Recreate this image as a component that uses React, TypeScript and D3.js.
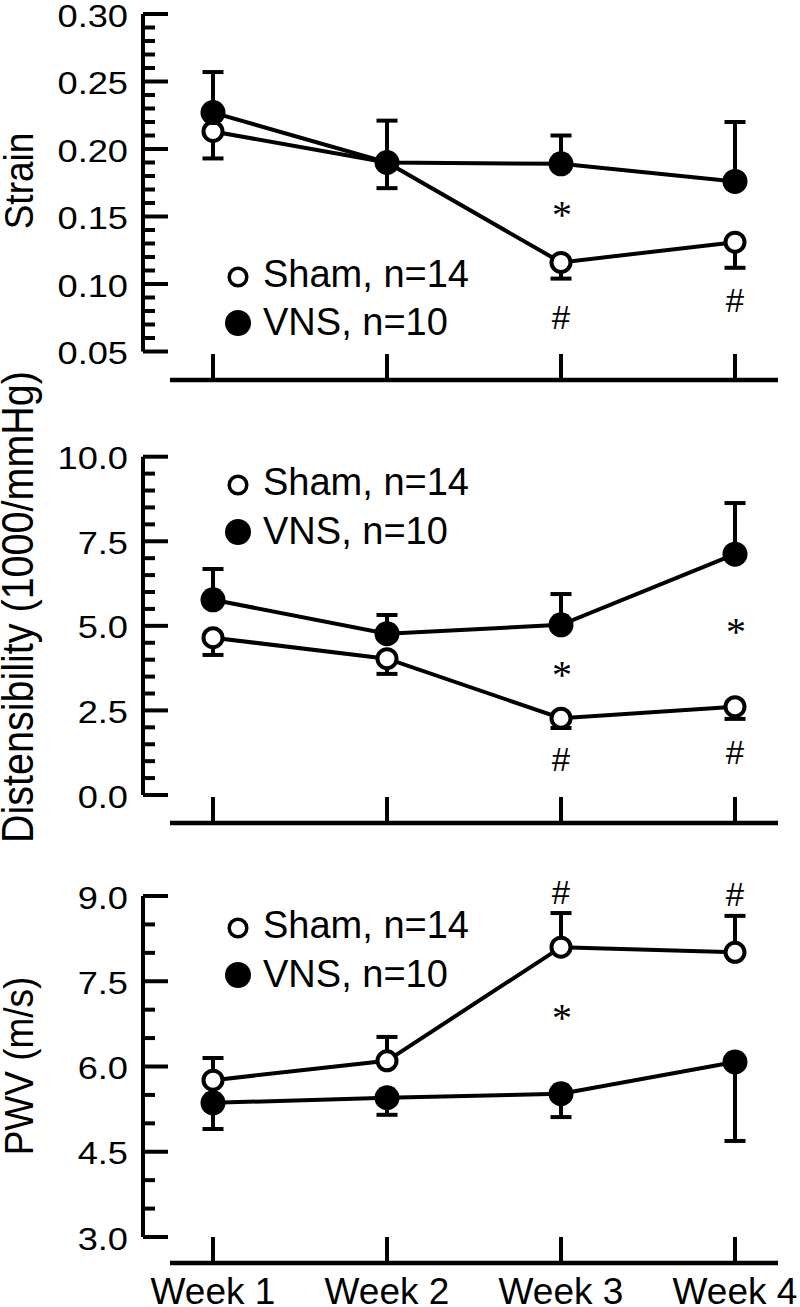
import React from "react";
import * as d3 from "d3";

const weeks = ["Week 1", "Week 2", "Week 3", "Week 4"];

// Strain
const strainSham = [0.213, 0.19, 0.116, 0.131];
const strainShamErr = [0.02, 0.019, 0.012, 0.019];
const strainVNS = [0.227, 0.19, 0.189, 0.176];
const strainVNSErr = [0.03, 0.031, 0.021, 0.044];
const strainTicks = [0.05, 0.1, 0.15, 0.2, 0.25, 0.3];

// Distensibility
const distSham = [4.65, 4.03, 2.27, 2.61];
const distShamErr = [0.51, 0.45, 0.29, 0.36];
const distVNS = [5.77, 4.77, 5.03, 7.12];
const distVNSErr = [0.91, 0.55, 0.91, 1.51];
const distTicks = [0, 2.5, 5, 7.5, 10];

// PWV
const pwvSham = [5.76, 6.1, 8.1, 8.01];
const pwvShamErr = [0.39, 0.42, 0.6, 0.64];
const pwvVNS = [5.36, 5.45, 5.52, 6.08];
const pwvVNSErr = [0.46, 0.3, 0.41, 1.39];
const pwvTicks = [3, 4.5, 6, 7.5, 9];

const shamLabel = "Sham, n=14";
const vnsLabel = "VNS, n=10";

// annotations: [weekIndex, value, symbol]
const strainNotes: [number, number, string][] = [
  [2, 0.155, "*"],
  [2, 0.075, "#"],
  [3, 0.0875, "#"],
];
const distNotes: [number, number, string][] = [
  [2, 3.7, "*"],
  [3, 4.97, "*"],
  [2, 1.06, "#"],
  [3, 1.27, "#"],
];
const pwvNotes: [number, number, string][] = [
  [2, 9.07, "#"],
  [3, 9.02, "#"],
  [2, 6.94, "*"],
];

const FONT = "'Liberation Sans', Arial, Helvetica, sans-serif";

const x = d3.scalePoint<string>().domain(weeks).range([213, 735]);

type Panel = {
  label: string;
  labelSize: number;
  labelY: number;
  domain: [number, number];
  range: [number, number];
  ticks: number[];
  minorStep: number;
  fmt: (v: number) => string;
  xAxisY: number;
  sham: number[];
  shamErr: number[];
  shamDir: number;
  vns: number[];
  vnsErr: number[];
  vnsDir: number;
  shamOnTop: boolean;
  legendY: [number, number];
  notes: [number, number, string][];
};

const panels: Panel[] = [
  {
    label: "Strain",
    labelSize: 37,
    labelY: 181,
    domain: [0.05, 0.3],
    range: [351.5, 14],
    ticks: strainTicks,
    minorStep: 0.01,
    fmt: (v) => v.toFixed(2),
    xAxisY: 380,
    sham: strainSham,
    shamErr: strainShamErr,
    shamDir: -1,
    vns: strainVNS,
    vnsErr: strainVNSErr,
    vnsDir: 1,
    shamOnTop: false,
    legendY: [277, 323],
    notes: strainNotes,
  },
  {
    label: "Distensibility (1000/mmHg)",
    labelSize: 39.5,
    labelY: 607,
    domain: [0, 10],
    range: [795, 456.7],
    ticks: distTicks,
    minorStep: 0.5,
    fmt: (v) => v.toFixed(1),
    xAxisY: 823,
    sham: distSham,
    shamErr: distShamErr,
    shamDir: -1,
    vns: distVNS,
    vnsErr: distVNSErr,
    vnsDir: 1,
    shamOnTop: false,
    legendY: [485, 532],
    notes: distNotes,
  },
  {
    label: "PWV (m/s)",
    labelSize: 37,
    labelY: 1066,
    domain: [3, 9],
    range: [1237, 896],
    ticks: pwvTicks,
    minorStep: 0.5,
    fmt: (v) => v.toFixed(1),
    xAxisY: 1263,
    sham: pwvSham,
    shamErr: pwvShamErr,
    shamDir: 1,
    vns: pwvVNS,
    vnsErr: pwvVNSErr,
    vnsDir: -1,
    shamOnTop: true,
    legendY: [928, 975],
    notes: pwvNotes,
  },
];

const AXIS_X = 143;
const SW = 4;

function PanelView({ p }: { p: Panel }) {
  const y = d3.scaleLinear().domain(p.domain).range(p.range);
  const minor = d3
    .range(p.domain[0], p.domain[1] + p.minorStep / 2, p.minorStep)
    .filter((v) => !p.ticks.some((t) => Math.abs(t - v) < 1e-9));
  const line = d3
    .line<number>()
    .x((_, i) => x(weeks[i]) as number)
    .y((d) => y(d));

  const errBars = (vals: number[], errs: number[], dir: number, key: string) =>
    vals.map((v, i) => {
      const cx = x(weeks[i]) as number;
      const y0 = y(v);
      const y1 = y(v + dir * errs[i]);
      return (
        <g key={key + i} stroke="#000" strokeWidth={SW}>
          <line x1={cx} x2={cx} y1={y0} y2={y1} />
          <line x1={cx - 10.5} x2={cx + 10.5} y1={y1} y2={y1} />
        </g>
      );
    });

  const shamMarks = p.sham.map((v, i) => (
    <circle
      key={"sm" + i}
      cx={x(weeks[i]) as number}
      cy={y(v)}
      r={9.5}
      fill="#fff"
      stroke="#000"
      strokeWidth={4}
    />
  ));
  const vnsMarks = p.vns.map((v, i) => (
    <circle key={"vm" + i} cx={x(weeks[i]) as number} cy={y(v)} r={12.5} fill="#000" />
  ));

  return (
    <g>
      <line x1={AXIS_X} x2={AXIS_X} y1={p.range[1]} y2={p.range[0]} stroke="#000" strokeWidth={SW} />
      {p.ticks.map((t) => (
        <line
          key={"t" + t}
          x1={AXIS_X}
          x2={AXIS_X + 25}
          y1={y(t)}
          y2={y(t)}
          stroke="#000"
          strokeWidth={SW}
        />
      ))}
      {minor.map((t) => (
        <line
          key={"m" + t}
          x1={AXIS_X}
          x2={AXIS_X + 12}
          y1={y(t)}
          y2={y(t)}
          stroke="#000"
          strokeWidth={SW}
        />
      ))}
      {p.ticks.map((t) => (
        <text
          key={"l" + t}
          transform={`translate(128,${y(t) + 12.5}) scale(1.15,1)`}
          textAnchor="end"
          fontSize={31.5}
          fontFamily={FONT}
        >
          {p.fmt(t)}
        </text>
      ))}
      <text
        transform={`translate(33,${p.labelY}) scale(1.1,1) rotate(-90)`}
        textAnchor="middle"
        fontSize={p.labelSize}
        fontFamily={FONT}
      >
        {p.label}
      </text>

      <line x1={170} x2={778} y1={p.xAxisY} y2={p.xAxisY} stroke="#000" strokeWidth={4.5} />
      {weeks.map((w) => (
        <line
          key={"xt" + w}
          x1={x(w) as number}
          x2={x(w) as number}
          y1={p.xAxisY}
          y2={p.xAxisY - 26}
          stroke="#000"
          strokeWidth={SW}
        />
      ))}

      <path d={line(p.sham) || ""} fill="none" stroke="#000" strokeWidth={4} />
      <path d={line(p.vns) || ""} fill="none" stroke="#000" strokeWidth={4} />

      {errBars(p.sham, p.shamErr, p.shamDir, "se")}
      {errBars(p.vns, p.vnsErr, p.vnsDir, "ve")}

      {p.shamOnTop ? (
        <>
          {vnsMarks}
          {shamMarks}
        </>
      ) : (
        <>
          {shamMarks}
          {vnsMarks}
        </>
      )}

      <circle cx={238} cy={p.legendY[0]} r={8.8} fill="#fff" stroke="#000" strokeWidth={3.5} />
      <text x={263} y={p.legendY[0] + 10} fontSize={38} fontFamily={FONT}>
        {shamLabel}
      </text>
      <circle cx={238} cy={p.legendY[1]} r={13} fill="#000" />
      <text x={263} y={p.legendY[1] + 12} fontSize={38} fontFamily={FONT}>
        {vnsLabel}
      </text>

      {p.notes.map(([wi, v, s], i) =>
        s === "*" ? (
          <text
            key={"n" + i}
            x={(x(weeks[wi]) as number) + 1}
            y={y(v) + 18}
            textAnchor="middle"
            fontSize={40}
            fontFamily="'Liberation Serif', 'Times New Roman', serif"
          >
            *
          </text>
        ) : (
          <text
            key={"n" + i}
            x={x(weeks[wi]) as number}
            y={y(v) + 11.5}
            textAnchor="middle"
            fontSize={33}
            fontFamily={FONT}
          >
            #
          </text>
        )
      )}
    </g>
  );
}

export default function App() {
  return (
    <svg
      width={800}
      height={1307}
      viewBox="0 0 800 1307"
      style={{ position: "absolute", left: 0, top: 0, display: "block", background: "#fff" }}
    >
      <rect width={800} height={1307} fill="#fff" />
      {panels.map((p, i) => (
        <PanelView key={i} p={p} />
      ))}
      {weeks.map((w) => (
        <text
          key={"xl" + w}
          x={x(w) as number}
          y={1304}
          textAnchor="middle"
          fontSize={37}
          fontFamily={FONT}
        >
          {w}
        </text>
      ))}
    </svg>
  );
}
